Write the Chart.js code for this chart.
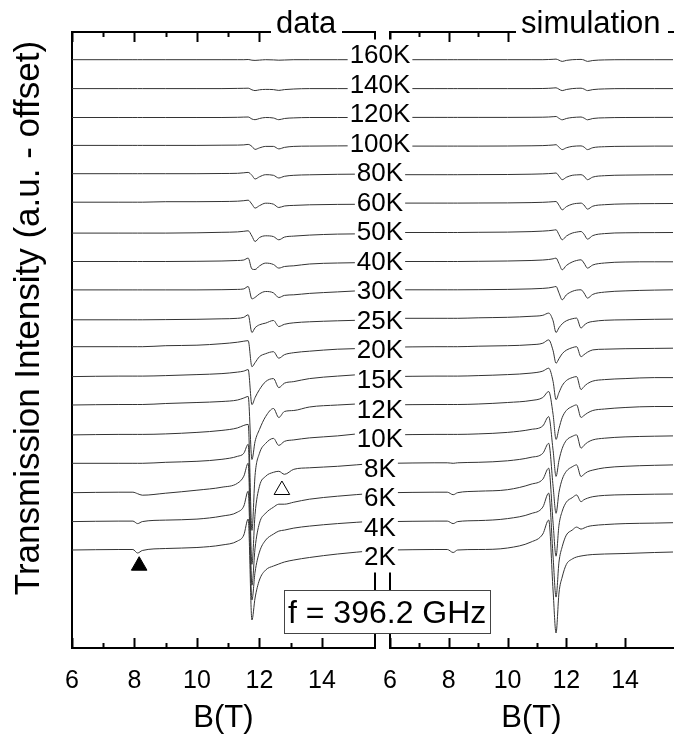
<!DOCTYPE html>
<html lang="en">
<head>
<meta charset="UTF-8">
<title>Transmission vs field, data and simulation</title>
<script src="https://cdn.jsdelivr.net/npm/chart.js"></script>
<style>
  body { margin: 0; background: #fff; }
  #wrap { position: relative; width: 691px; height: 736px; }
  #wrap canvas { position: absolute; left: 0; top: 0; }
</style>
</head>
<body>
<div id="wrap">
  <canvas id="dataChart" width="691" height="736"></canvas>
  <canvas id="simChart" width="691" height="736"></canvas>
</div>
<script>
// temperatures, bottom trace first
const temps = ['2K', '4K', '6K', '8K', '10K', '12K', '15K', '20K', '25K', '30K', '40K', '50K', '60K', '80K', '100K', '120K', '140K', '160K'];
const offsetStep = 28.9; // vertical offset between traces (a.u.)

// field points (T) of the measured traces
const dataField = [6, 7.5, 7.95, 8.1, 8.25, 9, 10, 10.8, 11.3, 11.5, 11.64, 11.76, 11.86, 12.0, 12.2, 12.45, 12.62, 12.8, 13.1, 13.6, 14.5, 15.7];
// measured transmission, offset removed (a.u.), same order as temps
const dataCurves = [
  [1, 1.5, 1.5, -2, 0.5, 2.5, 3.5, 6, 10, 16, 32, -69, -47, -29, -19, -15, -13, -11, -9, -6.5, -3, 0.5],
  [0.5, 1, 1, -1.5, 0.5, 2, 3, 6, 10, 16, 31, -78, -50, -30, -18, -12, -9, -8, -6, -4, -1.5, 1],
  [0.5, 1, 1, -0.5, -2, 0, 3, 6, 10, 17, 30, -92, -55, -30, -20, -14, -11, -11, -9, -6, -3, 0],
  [1, 1, 1, 1, 1, 2, 3, 5, 8, 11, 20, -100, -50, -22, -12, -8, -7, -10, -5, -3.5, -2, 1],
  [0.5, 1, 1, 1, 1, 1.5, 3, 5, 7.5, 10, 11, -95, -40, -18, -8, -3, -10, -6, -4.5, -2.5, -0.5, 3.5],
  [1.5, 2, 2, 2, 2, 3, 4, 5, 6.5, 8.5, 10, -53, -35, -23, -10, -2, -11, -5, -4, -0.5, 1.5, 3.5],
  [1, 1.5, 1.5, 1.5, 1.5, 2, 3, 4, 5.5, 6.5, 8, -27, -20, -12, -4, -1, -10, -5.6, -4, -1, 1.5, 4],
  [2, 2, 2, 2, 2, 3, 3.5, 5, 6.5, 7.5, 8, -18, -14, -8, -5, -3, -9.5, -6, -4, -2.5, -0.5, 0.5],
  [0, 0, 0, 0, 0, 0.2, 0.5, 1, 1.5, 2.5, 5, -12.7, -8, -5, -3.3, -0.7, -6.7, -4.5, -3, -2, -1, 0],
  [1, 1, 1, 1, 1, 1, 1, 1.2, 1.5, 2, 4.4, -8, -6.5, -3, -0.6, -2, -6.6, -4.5, -3.9, -2.5, -1, 1],
  [0.5, 0.5, 0.5, 0.5, 0.5, 0.5, 0.7, 1, 1.5, 2, 3.9, -7, -7.5, -4, -1.1, -2.5, -6.1, -4.5, -3.8, -2, -1, -0.5],
  [0, 0, 0, 0, 0, 0, 0.3, 0.8, 1.2, 1.8, 2.3, -3, -8.4, -4.5, -2.7, -3.5, -6.7, -4, -3, -2, -1, -0.7],
  [2, 2, 2, 2, 2, 2.5, 2.5, 2.7, 3, 3.5, 4, 0, -3.9, -1.5, 1, 0, -3.3, -1.8, -1.2, -0.6, -0.2, 0],
  [1.6, 1.6, 1.6, 1.6, 1.6, 1.6, 1.6, 1.8, 2, 2.5, 2.9, 0, -3.7, -1.5, 0.6, 0, -2.7, -1, 0, 0.5, 1, 1.3],
  [1, 1, 1, 1, 1, 1, 1, 1.2, 1.3, 1.5, 2, 0, -3, -1.5, 0, 0, -2.5, -1, 0, 0.3, 0.5, 0.7],
  [0, 0, 0, 0, 0, 0, 0, 0, 0.2, 0.4, 0.5, -1.5, -2.2, -1, 0, -0.5, -2.2, -1, -0.4, 0, 0, 0],
  [0, 0, 0, 0, 0, 0, 0, 0, 0.2, 0.3, 0.4, -1.2, -2, -1.2, -0.8, -1, -1.8, -1, -0.4, 0, 0, 0],
  [0, 0, 0, 0, 0, 0, 0, 0, 0, 0, 0.2, -0.5, -0.7, -0.4, 0, -0.2, -0.5, -0.3, 0, 0, 0, 0]
];

// field points (T) of the simulated traces
const simField = [6, 7.5, 7.95, 8.15, 8.3, 9, 10, 10.8, 11.2, 11.4, 11.55, 11.65, 11.75, 11.86, 12.0, 12.2, 12.35, 12.5, 12.6, 12.72, 12.9, 13.3, 14, 15, 15.65];
const simCurves = [
  [1, 1.5, 1.5, -1.5, 1, 1.5, 3, 9, 17, 31, -40, -82, -42, -26, -13.5, -8, -6, -5, -4.5, -4, -3.5, -3, -2.5, -1.5, -1],
  [0.5, 1, 1, -1.5, 0.5, 1.5, 3.5, 8.5, 15, 29, -35, -75, -40, -24.6, -13, -8, -5, -7, -6, -4.5, -3.5, -2.5, -1.5, -1, -0.6],
  [0.5, 1, 1, -1.5, 0.5, 2, 3.5, 9, 14, 25, -30, -63, -32, -18, -9, -4.5, -1.8, -8.5, -6.5, -5, -3.5, -2.2, -1.5, -1, -0.8],
  [1, 1.5, 1.5, 1, 1.5, 2, 3.5, 7, 11, 21, -22, -49, -28, -15, -7, -2.5, -0.6, -12.3, -10, -7.5, -5.8, -3.5, -2, -1, -0.6],
  [0.5, 1, 1, 1, 1, 1.5, 3, 6, 9.5, 18.8, -15, -41, -25, -13, -5, -1, 0.5, -12.8, -10, -7, -4.5, -2.8, -1.5, -0.8, -0.5],
  [1.6, 2, 2, 2, 2, 2.5, 4, 6, 9, 15, -8, -33, -22, -11, -4, 0, 1.6, -11, -9, -6.5, -4, -2.5, -1, 0, 0],
  [1, 1.5, 1.5, 1.5, 1.5, 2, 3, 4.5, 6.5, 9.4, -4, -22, -15, -8, -3, 0, 1, -12, -9, -6, -3.5, -2, -1, 0, 0],
  [1.5, 2, 2, 2, 2, 2.5, 3, 4, 5.5, 8.8, -2, -14.5, -10, -5, -1.5, 1, 2, -8, -6, -3.5, -1.2, -0.5, 0, 0.3, 0.5],
  [1.5, 1.5, 1.5, 1.5, 1.5, 2, 2.5, 3.5, 4.5, 6.7, -1, -12.7, -8, -4, -1, 1, 1.7, -8.3, -5.5, -3, -1.7, -0.5, 0, 0.5, 0.7],
  [1.1, 1.1, 1.1, 1.1, 1.1, 1.2, 1.5, 2, 2.5, 3, 3.8, 4.4, -2, -8.9, -4, -0.5, 0.8, 1.1, -2, -7.2, -3.5, -1.2, 0, 0.8, 1.1],
  [0.5, 0.5, 0.5, 0.5, 0.5, 0.7, 1, 1.5, 2, 2.5, 3.2, 3.9, -1.5, -7.8, -3.5, 0, 1.5, 2.2, -1, -6.1, -3, -1, 0, 0.2, 0.2],
  [0.6, 0.6, 0.6, 0.6, 0.6, 0.8, 1, 1.5, 2, 2.4, 2.9, 3.3, -1.5, -6.7, -3, 0, 1, 1.6, -1, -6, -2.5, -0.5, 0.3, 0.5, 0.6],
  [1.1, 1.1, 1.1, 1.1, 1.1, 1.2, 1.3, 1.6, 1.9, 2.2, 2.5, 2.7, -1, -5.6, -2.5, 0, 0.8, 1.1, -0.8, -4.9, -2, -0.5, 0.3, 0.6, 0.7],
  [0.6, 0.6, 0.6, 0.6, 0.6, 0.7, 0.8, 1.1, 1.4, 1.7, 2, 2.3, -0.8, -4.4, -2, 0, 0.4, 0.6, -0.8, -4.4, -1.8, -0.4, 0.2, 0.5, 0.6],
  [0.3, 0.3, 0.3, 0.3, 0.3, 0.3, 0.4, 0.6, 0.8, 1.1, 1.4, 1.7, -0.8, -3.2, -1.4, 0, 0.4, 0.5, -0.6, -3.2, -1.3, -0.3, 0.1, 0.3, 0.3],
  [0.1, 0.1, 0.1, 0.1, 0.1, 0.1, 0.1, 0.2, 0.3, 0.5, 0.8, 1, -0.8, -2.3, -1, 0, 0.3, 0.5, -0.5, -2.3, -1, -0.3, 0, 0.1, 0.1],
  [0, 0, 0, 0, 0, 0, 0, 0, 0.1, 0.3, 0.6, 0.8, -0.6, -2, -0.9, 0, 0.3, 0.4, -0.4, -2, -1, -0.3, 0, 0, 0],
  [0, 0, 0, 0, 0, 0, 0, 0, 0, 0.2, 0.4, 0.6, -0.5, -1.7, -0.7, 0, 0.2, 0.3, -0.3, -1.7, -0.8, -0.2, 0, 0, 0]
];

// triangle markers in the data panel (filled, open)
const markerField = [8.15, 12.72];
const markerLevel = [-14.7, 61];

const FONT = "'Liberation Sans', Arial, sans-serif";
const yMin = -97, yMax = 519;
Chart.defaults.font.family = FONT;
Chart.defaults.color = '#000';

const axisBorder = { display: true, color: '#000', width: 2 };
const noGrid = { display: false, drawTicks: false };

// inward tick marks, long on even fields, short on odd ones
const tickMarks = {
  id: 'tickMarks',
  afterDraw(chart) {
    const ctx = chart.ctx, area = chart.chartArea;
    ctx.save();
    ctx.strokeStyle = '#000';
    ctx.lineWidth = 2;
    ['x', 'xTop'].forEach(id => {
      const s = chart.scales[id];
      s.ticks.forEach(t => {
        const v = Math.round(t.value);
        if (Math.abs(t.value - v) > 1e-6) return;
        const px = Math.round(s.getPixelForValue(v)) + 0.5;
        const len = v % 2 === 0 ? 10 : 5;
        const y0 = id === 'x' ? area.bottom : area.top;
        const dir = id === 'x' ? -1 : 1;
        ctx.beginPath();
        ctx.moveTo(px, y0);
        ctx.lineTo(px, y0 + dir * len);
        ctx.stroke();
      });
    });
    ctx.restore();
  }
};

// y title, centred a little above the middle of the frame as in the original
const yTitle = {
  id: 'yTitle',
  afterDraw(chart) {
    const ctx = chart.ctx;
    ctx.save();
    ctx.translate(29, 318);
    ctx.rotate(-Math.PI / 2);
    ctx.font = '35px ' + FONT;
    ctx.fillStyle = '#000';
    ctx.textAlign = 'center';
    ctx.textBaseline = 'middle';
    ctx.fillText('Transmission Intensity (a.u. - offset)', 0, 0);
    ctx.restore();
  }
};

function traces(field, curves) {
  return temps.map((t, i) => ({
    label: t,
    data: field.map((b, k) => ({ x: b, y: i * offsetStep + curves[i][k] })),
    borderColor: '#333',
    borderWidth: 1,
    pointRadius: 0,
    cubicInterpolationMode: 'monotone',
    fill: false
  }));
}

function panelScales(xMax, leftWidth, rightWidth) {
  const scales = {
    x: {
      type: 'linear', position: 'bottom', min: 6, max: xMax,
      ticks: { stepSize: 1, autoSkip: false, maxRotation: 0, padding: 18, font: { size: 25 },
               callback: v => (Math.abs(v % 2) < 1e-6 ? String(v) : '') },
      grid: noGrid, border: axisBorder,
      title: { display: true, text: 'B(T)', font: { size: 31, lineHeight: 1 }, padding: { top: 0, bottom: 2 } },
      afterFit: s => { s.height = 88; }
    },
    xTop: {
      type: 'linear', position: 'top', min: 6, max: xMax,
      ticks: { display: false, stepSize: 1 },
      grid: noGrid, border: axisBorder,
      afterFit: s => { s.height = 32; }
    },
    y: {
      type: 'linear', position: 'left', min: yMin, max: yMax,
      ticks: { display: false }, grid: noGrid, border: axisBorder,
      afterFit: s => { s.width = leftWidth; }
    }
  };
  if (rightWidth) {
    scales.yRight = {
      type: 'linear', position: 'right', min: yMin, max: yMax,
      ticks: { display: false }, grid: noGrid, border: axisBorder,
      afterFit: s => { s.width = rightWidth; }
    };
  }
  return scales;
}

const baseOptions = {
  responsive: false,
  animation: false,
  devicePixelRatio: 1,
  layout: { padding: 0 },
  plugins: { legend: { display: false }, tooltip: { enabled: false } }
};

// left panel: measured data
const dataSets = traces(dataField, dataCurves);
dataSets.push({
  label: 'markers',
  data: markerField.map((b, i) => ({ x: b, y: markerLevel[i] })),
  showLine: false,
  pointStyle: 'triangle',
  pointRadius: 9,
  pointBackgroundColor: ['#000', '#fff'],
  pointBorderColor: '#000',
  pointBorderWidth: 1
});

new Chart(document.getElementById('dataChart'), {
  type: 'line',
  data: { datasets: dataSets },
  options: Object.assign({}, baseOptions, { scales: panelScales(15.7, 72, 316) }),
  plugins: [tickMarks, yTitle]
});

// overlay texts: panel names, temperature labels, frequency box
const overlay = {
  id: 'overlay',
  afterDraw(chart) {
    const ctx = chart.ctx, yS = chart.scales.y;
    ctx.save();
    ctx.font = '31px ' + FONT;
    ctx.textBaseline = 'alphabetic';
    [['data', 276, 271, 71], ['simulation', 521, 516, 152]].forEach(([txt, tx, rx, rw]) => {
      ctx.fillStyle = '#fff';
      ctx.fillRect(rx, 2, rw, 43);
      ctx.fillStyle = '#000';
      ctx.fillText(txt, tx, 33);
    });

    ctx.font = '26px ' + FONT;
    ctx.textAlign = 'center';
    ctx.textBaseline = 'middle';
    const labelX = 380;
    temps.forEach((t, i) => {
      const cy = yS.getPixelForValue(-6 + i * 29.53);
      const w = ctx.measureText(t).width;
      ctx.fillStyle = '#fff';
      ctx.fillRect(labelX - w / 2 - 2, cy - 15.5, w + 4, 31);
      ctx.fillStyle = '#000';
      ctx.fillText(t, labelX, cy + 1);
    });

    ctx.fillStyle = '#fff';
    ctx.fillRect(284, 590, 207, 44);
    ctx.strokeStyle = '#444';
    ctx.lineWidth = 1;
    ctx.strokeRect(284.5, 590.5, 206, 43);
    ctx.fillStyle = '#000';
    ctx.font = '32px ' + FONT;
    ctx.textAlign = 'left';
    ctx.textBaseline = 'alphabetic';
    ctx.fillText('f = 396.2 GHz', 288, 623);
    ctx.restore();
  }
};

// right panel: simulation
new Chart(document.getElementById('simChart'), {
  type: 'line',
  data: { datasets: traces(simField, simCurves) },
  options: Object.assign({}, baseOptions, { scales: panelScales(15.63, 390, 0) }),
  plugins: [tickMarks, overlay]
});
</script>
</body>
</html>
